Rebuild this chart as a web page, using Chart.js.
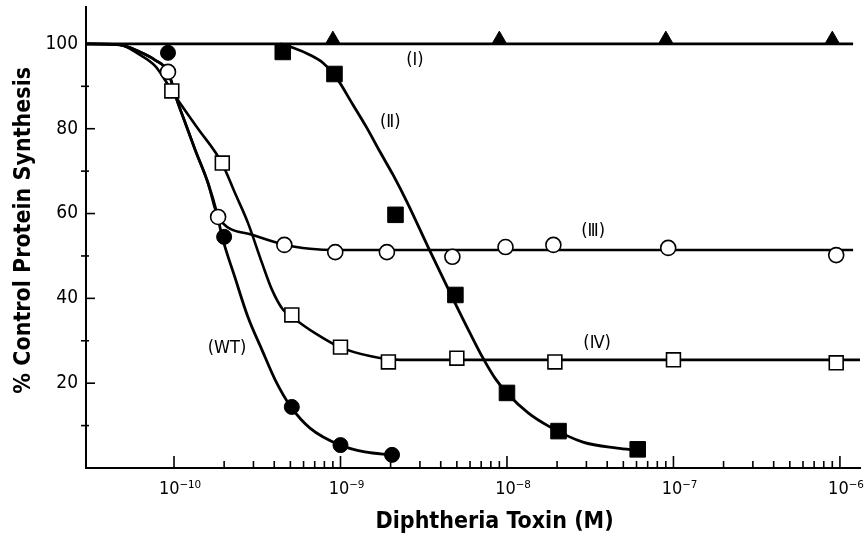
<!DOCTYPE html>
<html>
<head>
<meta charset="utf-8">
<script src="https://cdn.jsdelivr.net/npm/chart.js@4.4.0/dist/chart.umd.min.js"></script>
<style>
html,body{margin:0;padding:0;background:#fff;}
#wrap{width:867px;height:546px;}
</style>
</head>
<body>
<div id="wrap"><canvas id="c" width="867" height="546"></canvas></div>
<script>
// ---- Measured markers (concentration in M, % control protein synthesis) ----
const triX = [9e-10, 9e-9, 9e-8, 9e-7];
const triY = [101, 101, 101, 101];

const sqFilledX = [4.5e-10, 9.2e-10, 2.14e-9, 4.9e-9, 1.0e-8, 2.04e-8, 6.1e-8];
const sqFilledY = [98.1, 92.9, 59.7, 40.8, 17.7, 8.7, 4.4];

const circOpenX = [9.2e-11, 1.84e-10, 4.6e-10, 9.3e-10, 1.9e-9, 4.7e-9, 9.8e-9, 1.9e-8, 9.3e-8, 9.5e-7];
const circOpenY = [93.4, 59.2, 52.6, 50.9, 50.9, 49.8, 52.1, 52.6, 51.9, 50.2];

const sqOpenX = [9.7e-11, 1.95e-10, 5.1e-10, 1.0e-9, 1.94e-9, 5.0e-9, 1.94e-8, 1.0e-7, 9.5e-7];
const sqOpenY = [88.9, 71.9, 36.1, 28.5, 25.0, 25.9, 25.0, 25.5, 24.8];

const circFilledX = [9.2e-11, 2.0e-10, 5.1e-10, 1.0e-9, 2.04e-9];
const circFilledY = [97.9, 54.5, 14.4, 5.4, 3.1];

// ---- Fitted curves ----
const curveIX = [2.96e-11, 1.2e-6];
const curveIY = [100, 100];

const curveIIX = [4.34e-10, 5.19e-10, 6.56e-10, 7.86e-10, 9.27e-10, 1.19e-9, 1.44e-9, 1.73e-9, 2.07e-9, 2.51e-9, 3.36e-9, 4.74e-9, 6.0e-9, 7.18e-9, 8.47e-9, 1.0e-8, 1.34e-8, 1.81e-8, 2.86e-8, 4.58e-8, 6.12e-8];
const curveIIY = [100, 99.1, 97.4, 95.5, 92.5, 85.6, 80.2, 74.5, 69.1, 62.7, 52.1, 39.9, 31.8, 25.9, 21.2, 17.7, 13.0, 9.7, 6.1, 4.7, 4.2];

const curveIIIX = [2.96e-11, 4.68e-11, 6.25e-11, 7.69e-11, 9.2e-11, 1.04e-10, 1.18e-10, 1.34e-10, 1.60e-10, 1.84e-10, 2.94e-10, 4.65e-10, 6.56e-10, 9.27e-10, 1.2e-6];
const curveIIIY = [100, 99.8, 98.1, 96.2, 93.4, 86.8, 80.9, 75.0, 67.2, 59.2, 55.0, 52.6, 51.7, 51.4, 51.4];

const curveIVX = [2.96e-11, 4.68e-11, 6.25e-11, 7.69e-11, 8.83e-11, 9.7e-11, 1.37e-10, 1.94e-10, 2.32e-10, 2.78e-10, 3.38e-10, 3.88e-10, 4.52e-10, 5.04e-10, 7.03e-10, 9.93e-10, 1.5e-9, 2.28e-9, 1.32e-6];
const curveIVY = [100, 99.8, 97.4, 94.8, 91.5, 88.9, 80.4, 71.9, 64.9, 57.8, 48.3, 42.0, 37.3, 35.8, 31.8, 28.5, 26.4, 25.5, 25.5];

const curveWTX = [2.96e-11, 4.68e-11, 6.25e-11, 7.69e-11, 9.2e-11, 1.04e-10, 1.18e-10, 1.34e-10, 1.60e-10, 1.81e-10, 1.94e-10, 2.32e-10, 2.78e-10, 3.38e-10, 4.05e-10, 5.04e-10, 6.56e-10, 9.93e-10, 1.40e-9, 2.04e-9];
const curveWTY = [100, 99.8, 98.1, 96.2, 93.4, 86.8, 80.9, 75.0, 67.2, 60.1, 54.7, 45.0, 35.6, 27.8, 20.8, 14.4, 9.4, 5.4, 3.8, 3.1];

// ---- Axes ----
const xMin = 2.96e-11, xMax = 1.32e-6;
const yMin = 0, yMax = 108.7;
const xMajorTicks = [1e-10, 1e-9, 1e-8, 1e-7, 1e-6];
const xTickLabels = ['10\u207B\u00B9\u2070', '10\u207B\u2079', '10\u207B\u2078', '10\u207B\u2077', '10\u207B\u2076'];
const yMajorTicks = [20, 40, 60, 80, 100];
const yMinorTicks = [10, 30, 50, 70, 90];
const yTickLabels = ['20', '40', '60', '80', '100'];

// ---- Curve labels (text + anchor in data units) ----
const curveLabelText = ['(\u2160)', '(\u2161)', '(\u2162)', '(\u2163)', '(WT)'];
const curveLabelX = [2.8e-9, 1.99e-9, 3.29e-8, 3.48e-8, 2.08e-10];
const curveLabelY = [96.2, 81.6, 55.7, 29.5, 28.3];

const zip = (xs, ys) => xs.map((v, i) => ({x: v, y: ys[i]}));
const FONT = "'DejaVu Sans Condensed', 'DejaVu Sans', sans-serif";

function markerSet(xs, ys, style, filled, r) {
  return {
    data: zip(xs, ys), showLine: false, pointStyle: style, pointRadius: r, pointHoverRadius: r,
    backgroundColor: filled ? '#000' : '#fff', borderColor: '#000', borderWidth: filled ? 1 : 1.6,
    clip: false
  };
}
function curveSet(xs, ys, w) {
  return {
    data: zip(xs, ys), showLine: true, pointRadius: 0, pointHoverRadius: 0,
    borderColor: '#000', borderWidth: w, fill: false, cubicInterpolationMode: 'monotone', clip: false
  };
}

const tickPlugin = {
  id: 'innerTicks',
  beforeDatasetsDraw(chart) {
    const {ctx, scales: {x, y}} = chart;
    ctx.save();
    ctx.strokeStyle = '#000';
    ctx.lineWidth = 1.6;
    const base = y.bottom;
    const last = xMajorTicks[xMajorTicks.length - 1];
    xMajorTicks.forEach(v => {
      for (let m = 1; m <= 9; m++) {
        const val = v * m;
        if (val > last * 1.0001) break;
        const px = x.getPixelForValue(val);
        ctx.beginPath();
        ctx.moveTo(px, base);
        ctx.lineTo(px, base - (m === 1 ? 12 : 7));
        ctx.stroke();
      }
    });
    const left = x.left;
    yMajorTicks.forEach(v => {
      const py = y.getPixelForValue(v);
      ctx.beginPath(); ctx.moveTo(left, py); ctx.lineTo(left + 9, py); ctx.stroke();
    });
    yMinorTicks.forEach(v => {
      const py = y.getPixelForValue(v);
      ctx.beginPath(); ctx.moveTo(left - 5, py); ctx.lineTo(left + 3, py); ctx.stroke();
    });
    ctx.restore();
  },
  afterDatasetsDraw(chart) {
    const {ctx, scales: {x, y}} = chart;
    ctx.save();
    ctx.fillStyle = '#000';
    ctx.font = "18px " + FONT;
    ctx.textAlign = 'center';
    ctx.textBaseline = 'middle';
    curveLabelText.forEach((t, i) => {
      ctx.fillText(t, x.getPixelForValue(curveLabelX[i]), y.getPixelForValue(curveLabelY[i]));
    });
    ctx.restore();
  }
};

new Chart(document.getElementById('c'), {
  type: 'scatter',
  data: {
    datasets: [
      markerSet(triX, triY, 'triangle', true, 8.5),
      markerSet(sqFilledX, sqFilledY, 'rect', true, 11),
      markerSet(circFilledX, circFilledY, 'circle', true, 7.5),
      markerSet(circOpenX, circOpenY, 'circle', false, 7.5),
      markerSet(sqOpenX, sqOpenY, 'rect', false, 9.8),
      curveSet(curveIX, curveIY, 2.8),
      curveSet(curveIIX, curveIIY, 2.8),
      curveSet(curveIIIX, curveIIIY, 2.6),
      curveSet(curveIVX, curveIVY, 2.6),
      curveSet(curveWTX, curveWTY, 2.8)
    ]
  },
  options: {
    responsive: false,
    devicePixelRatio: 1,
    animation: false,
    layout: {autoPadding: false, padding: {top: 7, right: 7, left: 0, bottom: 0}},
    plugins: {legend: {display: false}, tooltip: {enabled: false}},
    events: [],
    scales: {
      x: {
        type: 'logarithmic', min: xMin, max: xMax,
        grid: {display: false, drawTicks: false},
        border: {display: true, color: '#000', width: 2},
        afterBuildTicks: s => { s.ticks = xMajorTicks.map(v => ({value: v, major: true})); },
        afterFit: s => { s.height = 78; s.paddingLeft = 0; s.paddingRight = 0; },
        ticks: {
          autoSkip: false, maxRotation: 0, padding: 11, labelOffset: 6, color: '#000',
          font: {family: FONT, size: 18},
          callback: (v, i) => xTickLabels[i]
        },
        title: {
          display: true, text: '      Diphtheria Toxin (M)', color: '#000',
          font: {family: FONT, size: 23, weight: 'bold'},
          padding: {top: 0, bottom: 10}
        }
      },
      y: {
        type: 'linear', min: yMin, max: yMax,
        grid: {display: false, drawTicks: false},
        border: {display: true, color: '#000', width: 2},
        afterBuildTicks: s => { s.ticks = yMajorTicks.map(v => ({value: v})); },
        afterFit: s => { s.width = 86; s.paddingTop = 0; s.paddingBottom = 0; },
        ticks: {
          autoSkip: false, padding: 8, color: '#000',
          font: {family: FONT, size: 19},
          callback: (v, i) => yTickLabels[i]
        },
        title: {
          display: true, text: '  % Control Protein Synthesis', color: '#000',
          font: {family: FONT, size: 23, weight: 'bold'},
          padding: {top: 10, bottom: 0}
        }
      }
    }
  },
  plugins: [tickPlugin]
});
</script>
</body>
</html>
